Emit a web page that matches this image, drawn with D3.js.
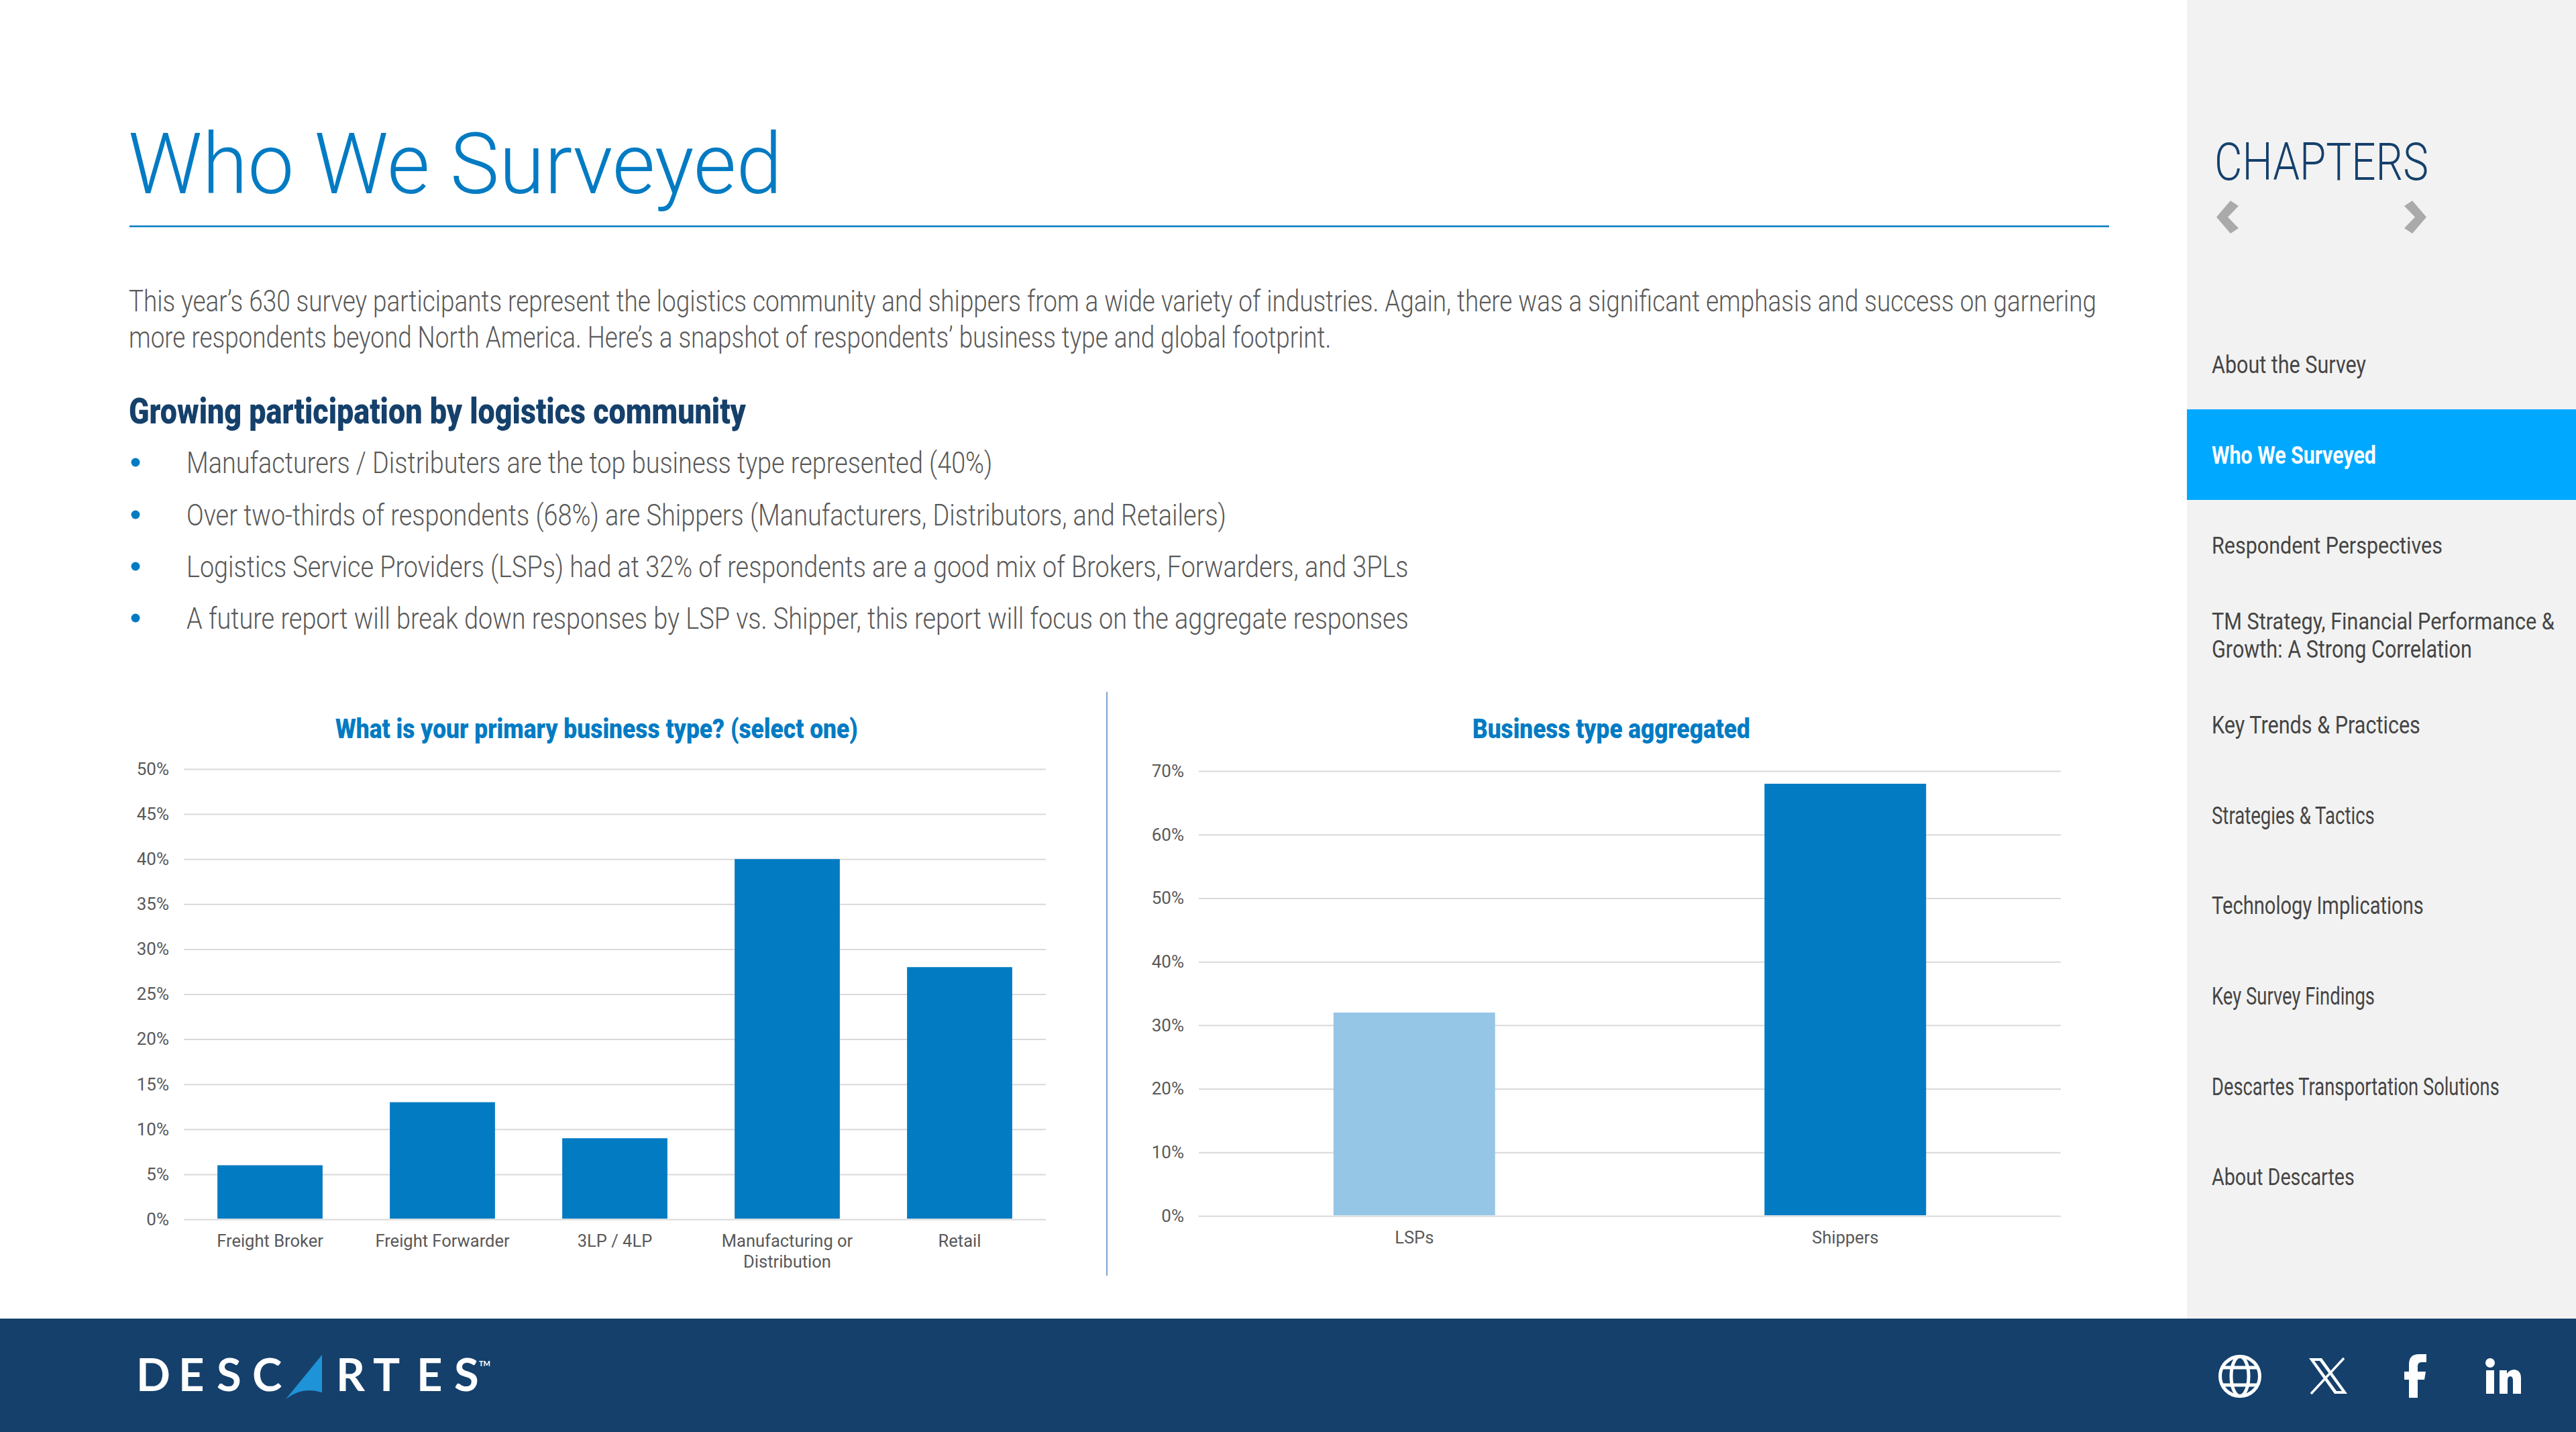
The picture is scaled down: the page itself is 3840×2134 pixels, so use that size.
<!DOCTYPE html>
<html><head><meta charset="utf-8">
<script src="https://cdn.jsdelivr.net/npm/d3@7"></script>
<style>
html,body{margin:0;padding:0;background:#fff;overflow:hidden}
svg{display:block;font-family:Roboto,sans-serif}
</style></head><body>
<svg id="page" width="3840" height="2134" viewBox="0 0 3840 2134"></svg>
<script>
// ---- data ----
const businessTypes = ["Freight Broker","Freight Forwarder","3LP / 4LP","Manufacturing or Distribution","Retail"];
const businessShares = [6,13,9,40,28];
const businessTicks = [0,5,10,15,20,25,30,35,40,45,50];
const aggregateTypes = ["LSPs","Shippers"];
const aggregateShares = [32,68];
const aggregateTicks = [0,10,20,30,40,50,60,70];
const chapterNames = ["About the Survey","Who We Surveyed","Respondent Perspectives","TM Strategy, Financial Performance &\nGrowth: A Strong Correlation","Key Trends & Practices","Strategies & Tactics","Technology Implications","Key Survey Findings","Descartes Transportation Solutions","About Descartes"];
const bulletLines = ["Manufacturers / Distributers are the top business type represented (40%)","Over two-thirds of respondents (68%) are Shippers (Manufacturers, Distributors, and Retailers)","Logistics Service Providers (LSPs) had at 32% of respondents are a good mix of Brokers, Forwarders, and 3PLs","A future report will break down responses by LSP vs. Shipper, this report will focus on the aggregate responses"];
const introLines = ["This year\u2019s 630 survey participants represent the logistics community and shippers from a wide variety of industries. Again, there was a significant emphasis and success on garnering","more respondents beyond North America. Here\u2019s a snapshot of respondents\u2019 business type and global footprint."];

// ---- palette ----
const BLUE="#027bc3", LIGHT="#95c6e6", NAVY="#15406b", GREY="#595959", GRID="#d9d9d9";

const svg=d3.select("#page");
// text fitted to the reference's measured width by a horizontal squeeze
function label(parent,str,x,y,size,weight,fill,width){
  const t=parent.append("text").attr("font-size",size)
    .attr("font-weight",weight).attr("fill",fill).text(str);
  const natural=t.node().getComputedTextLength();
  const sx=width?width/natural:1;
  t.attr("transform",`translate(${x},${y}) scale(${sx},1)`);
  return t;
}

// ---- page frame ----
svg.append("rect").attr("x",3260).attr("y",0).attr("width",580).attr("height",1965).attr("fill","#f2f2f2");
svg.append("rect").attr("x",0).attr("y",1965).attr("width",3840).attr("height",169).attr("fill",NAVY);

label(svg,"Who We Surveyed",191,288,127,300,BLUE,975);
svg.append("rect").attr("x",193).attr("y",336).attr("width",2951).attr("height",2.5).attr("fill",BLUE);

const introWidths=[2934,1793];
introLines.forEach((s,i)=>label(svg,s,192,464+i*54,45,300,GREY,introWidths[i]));
label(svg,"Growing participation by logistics community",192,631,53,900,NAVY,920);

const bulletY=[704,782,859,936], bulletW=[1202,1550,1822,1822];
bulletLines.forEach((s,i)=>{
  svg.append("circle").attr("cx",202).attr("cy",bulletY[i]-15).attr("r",6.5).attr("fill",BLUE);
  label(svg,s,278,bulletY[i]+1,45,300,GREY,bulletW[i]);
});

svg.append("rect").attr("x",1649).attr("y",1031).attr("width",2).attr("height",870).attr("fill","#7fa3cf");

// ---- bar charts ----
function wrap(sel,maxW){
  sel.each(function(){
    const t=d3.select(this), words=t.text().split(" ");
    const probe=this.getComputedTextLength();
    if(probe<=maxW||words.length<2) return;
    const last=words.pop();
    t.text(null);
    t.append("tspan").attr("x",0).text(words.join(" "));
    t.append("tspan").attr("x",0).attr("dy",31).text(last);
  });
}
function barChart(o){
  const g=svg.append("g");
  const x=d3.scaleBand().domain(o.cats).range([o.left,o.right]).paddingInner(o.pad).paddingOuter(o.pad/2);
  const y=d3.scaleLinear().domain([0,o.max]).range([o.bottom,o.top]);
  const ya=g.append("g").attr("transform",`translate(${o.left},0)`)
    .call(d3.axisLeft(y).tickValues(o.ticks).tickSize(-(o.right-o.left)).tickPadding(22).tickFormat(d=>d+"%"));
  ya.select(".domain").remove();
  ya.selectAll("line").attr("stroke",GRID).attr("stroke-width",2);
  ya.selectAll("text").attr("fill",GREY).attr("font-size",26).attr("font-weight",400).attr("font-family","Roboto");
  g.selectAll("rect.bar").data(o.vals).join("rect").attr("class","bar")
    .attr("x",(d,i)=>x(o.cats[i])).attr("width",x.bandwidth())
    .attr("y",d=>y(d)).attr("height",d=>y(0)-y(d)-1)
    .attr("fill",(d,i)=>o.colors[i%o.colors.length]);
  const xa=g.append("g").attr("transform",`translate(0,${o.bottom})`)
    .call(d3.axisBottom(x).tickSize(0));
  xa.select(".domain").remove();
  xa.selectAll("text").attr("fill",GREY).attr("font-size",25.5).attr("font-weight",400)
    .attr("font-family","Roboto").attr("y",41).attr("dy",0).call(wrap,x.step());
  label(svg,o.title,o.titleX,1100,41,900,BLUE,o.titleW);
}
barChart({cats:businessTypes,vals:businessShares,ticks:businessTicks,max:50,left:274,right:1559,top:1146,bottom:1817,pad:0.39,colors:[BLUE],
  title:"What is your primary business type? (select one)",titleX:500,titleW:779});
barChart({cats:aggregateTypes,vals:aggregateShares,ticks:aggregateTicks,max:70,left:1787,right:3072,top:1149,bottom:1812,pad:0.625,colors:[LIGHT,BLUE],
  title:"Business type aggregated",titleX:2195,titleW:414});

// ---- sidebar ----
label(svg,"CHAPTERS",3301,268,77,300,NAVY,319);
const chev=d3.line();
svg.append("path").attr("d",chev([[3337,307],[3321,323.5],[3337,340],[3325,348],[3304,323.5],[3325,299]])+"Z").attr("fill","#aaaaaa");
svg.append("path").attr("d",chev([[3584,307],[3600,323.5],[3584,340],[3596,348],[3617,323.5],[3596,299]])+"Z").attr("fill","#aaaaaa");
svg.append("rect").attr("x",3260).attr("y",610).attr("width",580).attr("height",135).attr("fill","#00a9ff");
const chapterY=[556,691,825,938,1093,1228,1362,1497,1632,1766];
const chapterW=[[230],[245],[344],[511,388],[311],[243],[316],[243],[429],[213]];
chapterNames.forEach((s,i)=>{
  s.split("\n").forEach((line,j)=>{
    label(svg,line,3297,chapterY[i]+j*42,36,i===1?700:400,i===1?"#ffffff":"#454545",chapterW[i][j]);
  });
});

// ---- logo ----
const logo=svg.append("g").attr("font-family","Lato,sans-serif").attr("font-weight",700).attr("font-size",67).attr("fill","#fff");
[["D",203],["E",266],["S",323],["C",376],["R",501],["T",556],["E",621],["S",677]].forEach(([c,x])=>
  logo.append("text").attr("x",x).attr("y",2073).text(c));
logo.append("text").attr("x",714).attr("y",2036).attr("font-size",11).attr("font-weight",700).text("TM");
svg.append("path").attr("d","M480,2019 L426,2085 Q450,2066 480,2075 Z").attr("fill","#1f93d8");

// ---- social icons ----
const ic=svg.append("g").attr("fill","#fff");
const globe=svg.append("g").attr("fill","none").attr("stroke","#fff").attr("stroke-width",5);
globe.append("circle").attr("cx",3339).attr("cy",2051).attr("r",29.5);
globe.append("ellipse").attr("cx",3339).attr("cy",2051).attr("rx",13).attr("ry",29.5);
globe.append("path").attr("d","M3312,2038H3366M3312,2064H3366");
ic.append("path").attr("fill-rule","evenodd").attr("d","M3442,2024H3461L3499,2077H3480Z M3450,2028L3483,2073H3491L3458,2028Z");
svg.append("path").attr("d","M3494,2024L3445,2077").attr("stroke","#fff").attr("stroke-width",3.5);
ic.append("path").attr("d","M3591,2083V2056H3584V2044H3591V2033Q3591,2018 3606,2018H3617V2030H3610Q3604,2030 3604,2036V2044H3616L3614,2056H3604V2083Z");
ic.append("circle").attr("cx",3712).attr("cy",2031).attr("r",7);
ic.append("rect").attr("x",3706).attr("y",2042).attr("width",12).attr("height",35);
ic.append("path").attr("d","M3726,2042H3737V2047Q3741,2041 3748,2041Q3758,2042 3758,2054V2077H3746V2057Q3746,2051 3742,2051Q3738,2051 3738,2057V2077H3726Z");
</script>
</body></html>
